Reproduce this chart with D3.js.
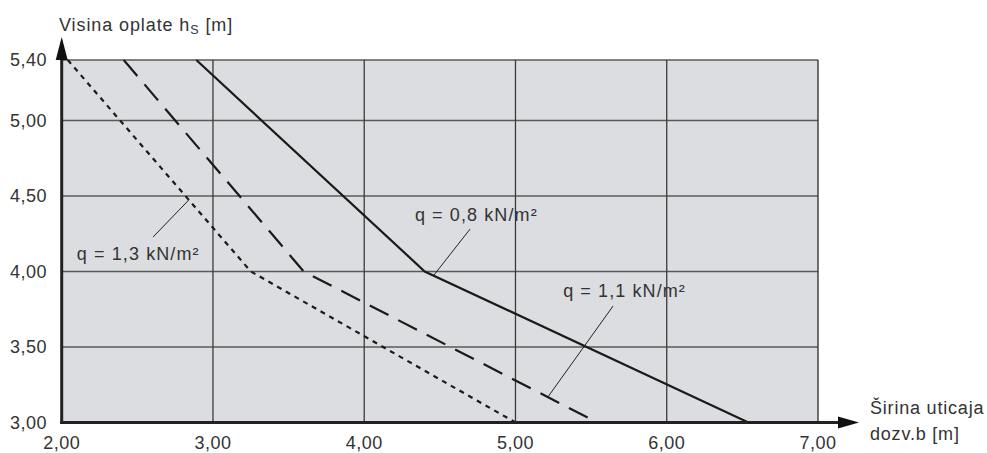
<!DOCTYPE html>
<html>
<head>
<meta charset="utf-8">
<script src="https://cdn.jsdelivr.net/npm/d3@7"></script>
<style>
  html, body { margin: 0; padding: 0; background: #fff; }
  svg text { font-family: "Liberation Sans", Arial, sans-serif; fill: #333; }
</style>
</head>
<body>
<svg id="chart" width="987" height="453"></svg>
<script>
// axis ticks
var xTicks = [2, 3, 4, 5, 6, 7];
var yTicks = [3.0, 3.5, 4.0, 4.5, 5.0, 5.4];

// curves: [b, h] pairs
var q08 = [[2.89, 5.40], [4.40, 4.00], [6.54, 3.00]];
var q11 = [[2.41, 5.40], [3.60, 4.00], [5.54, 3.00]];
var q13 = [[2.04, 5.40], [3.25, 4.00], [5.00, 3.00]];

// annotation labels and leader lines (data units)
var labelNames = ["q = 0,8 kN/m²", "q = 1,1 kN/m²", "q = 1,3 kN/m²"];
var labelPos = [[4.335, 4.334], [5.315, 3.831], [2.10, 4.076]];
var leaderFrom = [[4.70, 4.281], [5.645, 3.771], [2.604, 4.228]];
var leaderTo = [[4.46, 3.975], [5.215, 3.17], [2.842, 4.475]];

var fmt = function (v) { return d3.format(".2f")(v).replace(".", ","); };

var svg = d3.select("#chart");
var x = d3.scaleLinear().domain([2, 7]).range([61.7, 818]);
var y = d3.scaleLinear().domain([3, 5.4]).range([422.5, 60]);

// plot background
svg.append("rect")
  .attr("x", x(2)).attr("y", y(5.4))
  .attr("width", x(7) - x(2)).attr("height", y(3) - y(5.4))
  .attr("fill", "#dcdde0");

// grid lines
svg.append("g").selectAll("line").data(yTicks.slice(1)).join("line")
  .attr("x1", x(2)).attr("x2", x(7))
  .attr("y1", function (d) { return y(d); }).attr("y2", function (d) { return y(d); })
  .attr("stroke", "#5a5a5a").attr("stroke-width", 1.5);
svg.append("g").selectAll("line").data(xTicks.slice(1)).join("line")
  .attr("x1", function (d) { return x(d); }).attr("x2", function (d) { return x(d); })
  .attr("y1", y(5.4)).attr("y2", y(3))
  .attr("stroke", function (d) { return d === 7 ? "#2a2a2a" : "#3a3a3a"; })
  .attr("stroke-width", 1.3);

// curves
var line = d3.line().x(function (d) { return x(d[0]); }).y(function (d) { return y(d[1]); });
var curves = [
  { data: q08, dash: null },
  { data: q11, dash: "21,11", offset: 0 },
  { data: q13, dash: "5,5" }
];
curves.forEach(function (c) {
  svg.append("path")
    .attr("d", line(c.data))
    .attr("fill", "none")
    .attr("stroke", "#1a1a1a")
    .attr("stroke-width", 2.2)
    .attr("stroke-dasharray", c.dash);
});

// leaders
svg.append("g").selectAll("line").data(leaderFrom).join("line")
  .attr("x1", function (d) { return x(d[0]); }).attr("y1", function (d) { return y(d[1]); })
  .attr("x2", function (d, i) { return x(leaderTo[i][0]); }).attr("y2", function (d, i) { return y(leaderTo[i][1]); })
  .attr("stroke", "#222").attr("stroke-width", 1);

// labels
svg.append("g").selectAll("text").data(labelNames).join("text")
  .attr("x", function (d, i) { return x(labelPos[i][0]); })
  .attr("y", function (d, i) { return y(labelPos[i][1]); })
  .attr("font-size", 18)
  .attr("letter-spacing", 1.1)
  .text(function (d) { return d; });

// axes
svg.append("line")
  .attr("x1", x(2)).attr("x2", x(2)).attr("y1", y(3) + 1.5).attr("y2", 58)
  .attr("stroke", "#222").attr("stroke-width", 3);
svg.append("line")
  .attr("x1", x(2) - 1.5).attr("x2", 840).attr("y1", y(3)).attr("y2", y(3))
  .attr("stroke", "#222").attr("stroke-width", 3);
svg.append("path")
  .attr("d", "M" + (x(2) - 6) + ",60L" + x(2) + ",37L" + (x(2) + 6) + ",60Z")
  .attr("fill", "#111");
svg.append("path")
  .attr("d", "M838," + (y(3) - 6) + "L859," + y(3) + "L838," + (y(3) + 6) + "Z")
  .attr("fill", "#111");

// tick labels
svg.append("g").selectAll("text").data(yTicks).join("text")
  .attr("x", 47).attr("y", function (d) { return y(d); })
  .attr("dy", "0.36em")
  .attr("text-anchor", "end")
  .attr("font-size", 18).attr("letter-spacing", 0.5)
  .text(fmt);
svg.append("g").selectAll("text").data(xTicks).join("text")
  .attr("x", function (d) { return x(d); }).attr("y", 449)
  .attr("text-anchor", "middle")
  .attr("font-size", 18).attr("letter-spacing", 0.5)
  .text(fmt);

// axis titles
var yt = svg.append("text").attr("x", 59).attr("y", 31)
  .attr("font-size", 18).attr("letter-spacing", 0.9);
yt.append("tspan").text("Visina oplate h");
yt.append("tspan").attr("dy", 3).attr("font-size", 12.5).text("S");
yt.append("tspan").attr("dy", -3).text(" [m]");

svg.append("text").attr("x", 870).attr("y", 414)
  .attr("font-size", 18).attr("letter-spacing", 0.8).text("Širina uticaja");
svg.append("text").attr("x", 870).attr("y", 440)
  .attr("font-size", 18).attr("letter-spacing", 0.8).text("dozv.b [m]");
</script>
</body>
</html>
